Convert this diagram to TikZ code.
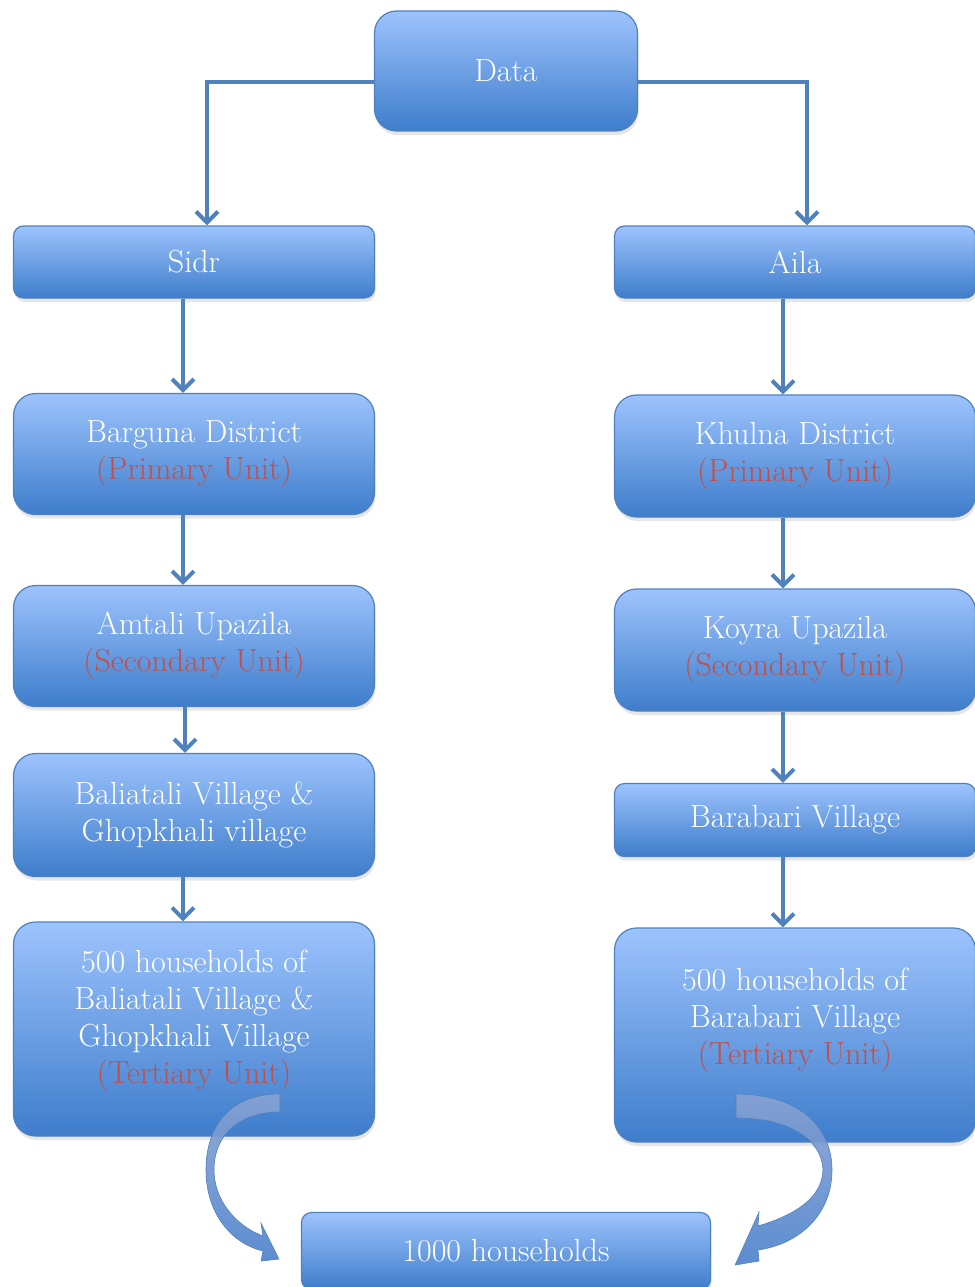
\documentclass[tikz,border=0pt]{standalone}
\usepackage{tikz}
\usetikzlibrary{arrows.meta,shadows}

\definecolor{boxtop}{HTML}{9DC3FD}
\definecolor{boxbot}{HTML}{3E7DCB}
\definecolor{boxline}{HTML}{4F81BD}
\definecolor{unitred}{HTML}{C0504D}
\definecolor{ribtop}{HTML}{8AA3D2}
\definecolor{ribbot}{HTML}{4A80CC}

\begin{document}
\begin{tikzpicture}[x=1pt,y=-1pt,
    box/.style={rectangle,rounded corners=22pt,draw=boxline,line width=1.2pt,
      top color=boxtop,bottom color=boxbot,text=white,align=center,inner sep=0pt,
      minimum width=361pt,font=\fontsize{32}{37}\selectfont,
      drop shadow={opacity=0.2,shadow xshift=1pt,shadow yshift=-4pt}},
    flat/.style={box,rounded corners=10pt,minimum height=72pt},
    conn/.style={draw=boxline,line width=4pt,-{Straight Barb[length=11pt,width=22pt]}},
    ribbon/.style={top color=ribtop,bottom color=ribbot,draw=boxline,line width=0.6pt,fill opacity=0.9}]
    \useasboundingbox (0,0) rectangle (974,1287);

    \node[box,minimum width=263pt,minimum height=120pt] (data) at (506,71) {Data};

    \node[flat] (sidr) at (194,262) {Sidr};
    \node[box,minimum height=121pt] (barguna) at (194,454) {Barguna District\\\textcolor{unitred}{(Primary Unit)}};
    \node[box,minimum height=121pt] (amtali) at (194,646) {Amtali Upazila\\\textcolor{unitred}{(Secondary Unit)}};
    \node[box,minimum height=123pt] (baliatali) at (194,815) {Baliatali Village \&\\Ghopkhali village};
    \node[box,minimum height=214pt,text depth=24pt] (hhleft) at (194,1029) {500 households of\\Baliatali Village \&\\Ghopkhali Village\\\textcolor{unitred}{(Tertiary Unit)}};

    \node[flat] (aila) at (795,262) {Aila};
    \node[box,minimum height=122pt] (khulna) at (795,456) {Khulna District\\\textcolor{unitred}{(Primary Unit)}};
    \node[box,minimum height=122pt] (koyra) at (795,650) {Koyra Upazila\\\textcolor{unitred}{(Secondary Unit)}};
    \node[flat,minimum height=73pt] (barabari) at (795,820) {Barabari Village};
    \node[box,minimum height=214pt,text depth=38pt] (hhright) at (795,1035) {500 households of\\Barabari Village\\\textcolor{unitred}{(Tertiary Unit)}};

    \node[flat,minimum width=409pt,minimum height=77pt] (total) at (506,1251) {1000 households};

    \draw[conn] ([yshift=-11pt]data.west) -| ([xshift=13pt]sidr.north);
    \draw[conn] ([yshift=-11pt]data.east) -| ([xshift=12pt]aila.north);

    \draw[conn] ([xshift=-11pt]sidr.south) -- ([xshift=-11pt]barguna.north);
    \draw[conn] ([xshift=-11pt]barguna.south) -- ([xshift=-11pt]amtali.north);
    \draw[conn] ([xshift=-9pt]amtali.south) -- ([xshift=-9pt]baliatali.north);
    \draw[conn] ([xshift=-11pt]baliatali.south) -- ([xshift=-11pt]hhleft.north);

    \draw[conn] ([xshift=-12pt]aila.south) -- ([xshift=-12pt]khulna.north);
    \draw[conn] ([xshift=-12pt]khulna.south) -- ([xshift=-12pt]koyra.north);
    \draw[conn] ([xshift=-12pt]koyra.south) -- ([xshift=-12pt]barabari.north);
    \draw[conn] ([xshift=-12pt]barabari.south) -- ([xshift=-12pt]hhright.north);

    % curved arrows into the total
    \coordinate (ltip) at ([xshift=-22pt,yshift=-8pt]total.west);
    \coordinate (rtip) at ([xshift=24pt,yshift=-14pt]total.east);
    \shade[ribbon] (280,1094) .. controls (228,1094) and (206,1128) .. (206,1170)
      .. controls (206,1212) and (230,1243) .. (263,1251) -- (261,1261) -- (ltip)
      -- (261,1223) -- (263,1236) .. controls (236,1226) and (214,1200) .. (214,1170)
      .. controls (214,1134) and (240,1112) .. (280,1112) -- cycle;
    \shade[ribbon] (736,1094) .. controls (800,1094) and (832,1128) .. (832,1170)
      .. controls (832,1214) and (800,1244) .. (758,1250) -- (759,1261) -- (rtip)
      -- (759,1212) -- (758,1226) .. controls (795,1215) and (822,1198) .. (823,1170)
      .. controls (822,1140) and (790,1118) .. (736,1118) -- cycle;
\end{tikzpicture}
\end{document}
